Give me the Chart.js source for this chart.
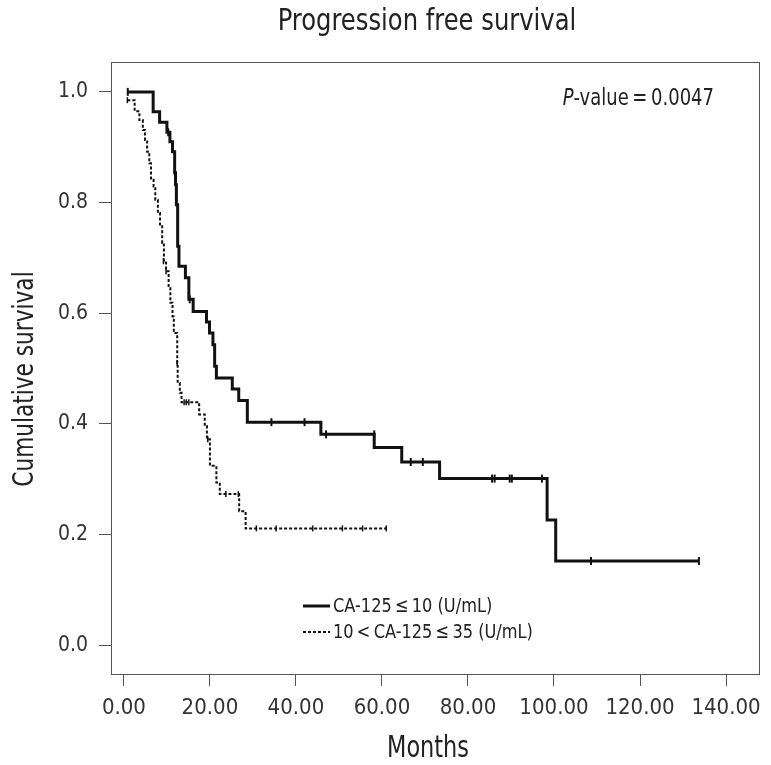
<!DOCTYPE html>
<html>
<head>
<meta charset="utf-8">
<script src="https://cdn.jsdelivr.net/npm/chart.js@4.4.1/dist/chart.umd.min.js"></script>
<style>
  html, body { margin: 0; padding: 0; background: #fff; }
  #contenedor { width: 771px; height: 765px; }
</style>
</head>
<body>
<div id="contenedor"><canvas id="grafico-supervivencia"></canvas></div>
<script>
// Datos (meses, supervivencia acumulada)
const tiemposBajo = [0.9, 6.8, 8.3, 10.0, 10.7, 11.3, 11.8, 12.0, 12.2, 12.5, 12.8, 14.3, 15.1, 16.1, 19.2, 19.9, 20.7, 21.1, 21.5, 25.2, 26.7, 28.7, 45.8, 58.2, 64.6, 73.4, 98.4, 100.4, 133.7];
const supervivenciaBajo = [1.0, 0.964, 0.945, 0.927, 0.91, 0.892, 0.854, 0.832, 0.796, 0.721, 0.685, 0.664, 0.625, 0.603, 0.584, 0.564, 0.543, 0.504, 0.483, 0.463, 0.442, 0.403, 0.381, 0.357, 0.331, 0.301, 0.226, 0.152, 0.152];
const censuraBajoTiempos = [0.9, 10.3, 15.3, 34.3, 42.0, 47.0, 58.2, 66.7, 69.5, 85.6, 86.2, 89.7, 90.2, 97.2, 108.6, 133.7];
const censuraBajoValores = [1.0, 0.927, 0.625, 0.403, 0.403, 0.381, 0.381, 0.331, 0.331, 0.301, 0.301, 0.301, 0.301, 0.301, 0.152, 0.152];

const tiemposMedio = [0.8, 2.5, 3.6, 4.4, 4.9, 5.4, 5.9, 6.3, 6.9, 7.3, 7.9, 8.4, 8.9, 9.3, 9.8, 10.4, 10.8, 11.3, 11.6, 12.4, 12.5, 13.0, 13.4, 17.5, 18.8, 19.3, 20.0, 21.5, 22.3, 26.8, 28.3, 61.0];
const supervivenciaMedio = [0.985, 0.965, 0.949, 0.931, 0.913, 0.892, 0.871, 0.841, 0.829, 0.805, 0.781, 0.757, 0.727, 0.694, 0.676, 0.649, 0.619, 0.594, 0.564, 0.51, 0.474, 0.456, 0.439, 0.417, 0.396, 0.372, 0.324, 0.294, 0.273, 0.242, 0.211, 0.211];
const censuraMedioTiempos = [0.8, 9.2, 9.8, 12.4, 14.0, 14.5, 15.1, 19.5, 23.7, 26.6, 30.8, 35.4, 43.9, 50.8, 55.5, 61.0];
const censuraMedioValores = [0.985, 0.694, 0.676, 0.51, 0.439, 0.439, 0.439, 0.372, 0.273, 0.273, 0.211, 0.211, 0.211, 0.211, 0.211, 0.211];

const marcasX = [0, 20, 40, 60, 80, 100, 120, 140];
const marcasY = [0, 0.2, 0.4, 0.6, 0.8, 1.0];

const etiquetasLeyenda = ["CA-125\u2009\u2264\u200910 (U/mL)", "10\u2009<\u2009CA-125\u2009\u2264\u200935 (U/mL)"];
const tituloGrafico = "Progression free survival";
const tituloEjeX = "Months";
const tituloEjeY = "Cumulative survival";
const textoValorP = "-value\u2009=\u20090.0047";

const fuente = "'Liberation Sans Narrow', 'DejaVu Sans Condensed', 'Liberation Sans', sans-serif";
const colorTexto = "#222";
const colorMarco = "#555";

const aPuntos = (xs, ys) => xs.map((x, i) => ({ x, y: ys[i] }));

const estiloCurva = (datos, ancho, guion) => ({
  type: "line",
  data: datos,
  stepped: "before",
  borderColor: "#111",
  borderWidth: ancho,
  borderDash: guion,
  pointRadius: 0,
  fill: false,
});

const estiloCensura = (datos, radio, ancho) => ({
  type: "line",
  data: datos,
  showLine: false,
  pointStyle: "line",
  rotation: 90,
  pointRadius: radio,
  pointBorderWidth: ancho,
  pointBorderColor: "#111",
  borderColor: "#111",
});

// texto estrecho: fuente alta comprimida en horizontal
const textoEstrecho = (ctx, texto, x, y, tam, escala, { alinear = "center", cursiva = false, giro = 0 } = {}) => {
  ctx.save();
  ctx.translate(x, y);
  ctx.rotate(giro);
  ctx.scale(escala, 1);
  ctx.font = `${cursiva ? "italic " : ""}${tam}px ${fuente}`;
  ctx.textAlign = alinear;
  ctx.fillText(texto, 0, 0);
  const ancho = ctx.measureText(texto).width * escala;
  ctx.restore();
  return ancho;
};

const medirEstrecho = (ctx, texto, tam, escala, cursiva = false) => {
  ctx.save();
  ctx.font = `${cursiva ? "italic " : ""}${tam}px ${fuente}`;
  const ancho = ctx.measureText(texto).width * escala;
  ctx.restore();
  return ancho;
};

const dibujarTextos = {
  id: "dibujarTextos",
  afterDraw(chart) {
    const { ctx, chartArea } = chart;
    ctx.save();
    // marco completo
    ctx.strokeStyle = colorMarco;
    ctx.lineWidth = 1;
    ctx.strokeRect(
      chartArea.left + 0.5,
      chartArea.top + 0.5,
      chartArea.right - chartArea.left - 1,
      chartArea.bottom - chartArea.top - 1
    );

    ctx.fillStyle = colorTexto;
    ctx.textBaseline = "alphabetic";
    textoEstrecho(ctx, tituloGrafico, 427, 30, 31, 0.87);
    textoEstrecho(ctx, tituloEjeX, 428, 757, 30, 0.83);
    textoEstrecho(ctx, tituloEjeY, 33, 379, 29, 0.83, { giro: -Math.PI / 2 });

    // valor P
    const anchoResto = medirEstrecho(ctx, textoValorP, 23, 0.87);
    const anchoP = medirEstrecho(ctx, "P", 23, 0.87, true);
    const inicioResto = 714 - anchoResto;
    textoEstrecho(ctx, "P", inicioResto - anchoP, 105, 23, 0.87, { alinear: "left", cursiva: true });
    textoEstrecho(ctx, textoValorP, inicioResto, 105, 23, 0.87, { alinear: "left" });

    // leyenda
    const filas = [606, 632];
    ctx.textBaseline = "middle";
    filas.forEach((y, i) => {
      const ds = chart.data.datasets[i];
      ctx.strokeStyle = ds.borderColor;
      ctx.lineWidth = ds.borderWidth;
      ctx.setLineDash(ds.borderDash || []);
      ctx.beginPath();
      ctx.moveTo(303, y);
      ctx.lineTo(330, y);
      ctx.stroke();
      ctx.setLineDash([]);
      textoEstrecho(ctx, etiquetasLeyenda[i], 333, y + 1, 20, 0.9, { alinear: "left" });
    });
    ctx.restore();
  },
};

const grafico = new Chart(document.querySelector("#grafico-supervivencia"), {
  type: "line",
  data: {
    datasets: [
      estiloCurva(aPuntos(tiemposBajo, supervivenciaBajo), 3, []),
      estiloCurva(aPuntos(tiemposMedio, supervivenciaMedio), 2, [3, 2]),
      estiloCensura(aPuntos(censuraBajoTiempos, censuraBajoValores), 4, 2),
      estiloCensura(aPuntos(censuraMedioTiempos, censuraMedioValores), 3, 1.5),
    ],
  },
  options: {
    responsive: true,
    maintainAspectRatio: false,
    animation: false,
    layout: { padding: { top: 62, right: 11, left: 0, bottom: 0 } },
    plugins: {
      legend: { display: false },
      tooltip: { enabled: false },
      title: { display: false },
    },
    scales: {
      x: {
        type: "linear",
        min: -3,
        max: 147.9,
        afterBuildTicks: (eje) => {
          eje.ticks = marcasX.map((v) => ({ value: v }));
        },
        afterFit: (eje) => {
          eje.height = 90;
        },
        border: { display: false },
        grid: { drawOnChartArea: false, color: colorMarco, tickLength: 11 },
        ticks: {
          padding: 9,
          color: "#333",
          font: { family: fuente, size: 22 },
          callback: (v) => Number(v).toFixed(2),
        },
      },
      y: {
        min: -0.054,
        max: 1.054,
        afterBuildTicks: (eje) => {
          eje.ticks = marcasY.map((v) => ({ value: v }));
        },
        afterFit: (eje) => {
          eje.width = 111;
        },
        border: { display: false },
        grid: { drawOnChartArea: false, color: colorMarco, tickLength: 12 },
        ticks: {
          padding: 11,
          color: "#333",
          font: { family: fuente, size: 21 },
          callback: (v) => Number(v).toFixed(1),
        },
      },
    },
  },
  plugins: [dibujarTextos],
});
</script>
</body>
</html>
